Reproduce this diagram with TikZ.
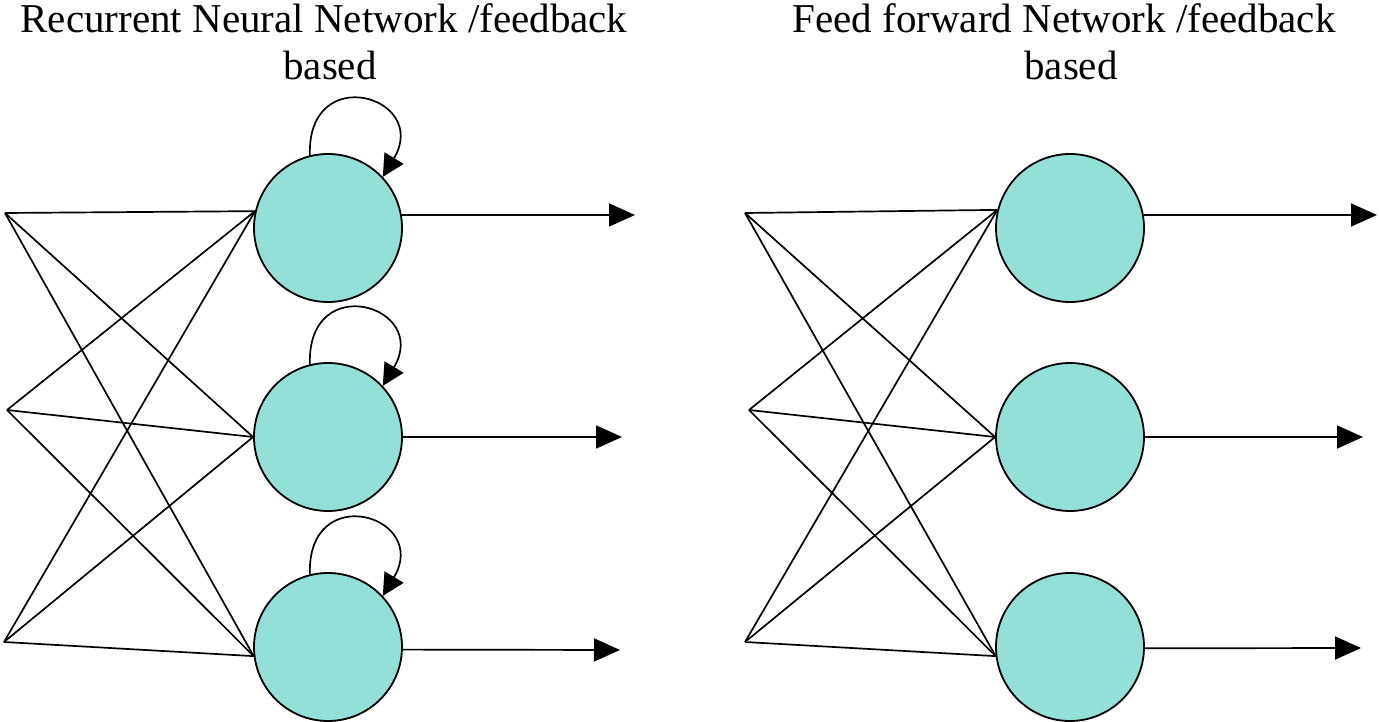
\documentclass[tikz,border=0pt]{standalone}
\usepackage{fontspec}
\setmainfont{Liberation Serif}
\usetikzlibrary{arrows.meta}
\definecolor{cellfill}{RGB}{146,224,216}
\begin{document}
\begin{tikzpicture}[x=1pt, y=1pt,
    neuron/.style={circle, draw=black, line width=1.8pt, fill=cellfill, minimum size=148pt, inner sep=0pt},
    link/.style={line width=1.7pt},
    outarrow/.style={line width=1.7pt, -{Triangle[length=26pt,width=23pt]}},
    selfloop/.style={line width=1.7pt, -{Triangle[length=22pt,width=22pt]}},
    heading/.style={font=\fontsize{41}{47}\selectfont, anchor=base, inner sep=0pt}]
  \useasboundingbox (0,0) rectangle (1379,721);
  % recurrent network
  \node[heading] (rtitle) at (324,688) {Recurrent Neural Network /feedback};
  \node[heading] (rsub) at (330,641) {based};
  \coordinate (rin1) at (5,508);
  \coordinate (rin2) at (7,311);
  \coordinate (rin3) at (4,79);
  \node[neuron] (rn1) at (328,493) {};
  \node[neuron] (rn2) at (328,284) {};
  \node[neuron] (rn3) at (328,74) {};
  \coordinate (rout1) at (635,506);
  \coordinate (rout2) at (622,284);
  \coordinate (rout3) at (620,71);
  \foreach \i in {1,2,3}
    \foreach \a/\j in {167/1,180/2,187/3}
      \draw[link] (rin\i) -- (rn\j.\a);
  \foreach \i in {1,2,3}
    \draw[selfloop] (rn\i.104) .. controls +(-3,95) and +(48,80) .. (rn\i.43);
  \draw[outarrow] (rn1.10) -- (rout1);
  \draw[outarrow] (rn2.0) -- (rout2);
  \draw[outarrow] (rn3.-2) -- (rout3);
  % feed forward network
  \node[heading] (ftitle) at (1064,688) {Feed forward Network /feedback};
  \node[heading] (fsub) at (1071,641) {based};
  \coordinate (fin1) at (745,508);
  \coordinate (fin2) at (749,311);
  \coordinate (fin3) at (745,79);
  \node[neuron] (fn1) at (1070,493) {};
  \node[neuron] (fn2) at (1070,284) {};
  \node[neuron] (fn3) at (1070,74) {};
  \coordinate (fout1) at (1377,506);
  \coordinate (fout2) at (1363,284);
  \coordinate (fout3) at (1361,73);
  \foreach \i in {1,2,3}
    \foreach \a/\j in {166/1,180/2,187/3}
      \draw[link] (fin\i) -- (fn\j.\a);
  \draw[outarrow] (fn1.10) -- (fout1);
  \draw[outarrow] (fn2.0) -- (fout2);
  \draw[outarrow] (fn3.-1) -- (fout3);
\end{tikzpicture}
\end{document}
